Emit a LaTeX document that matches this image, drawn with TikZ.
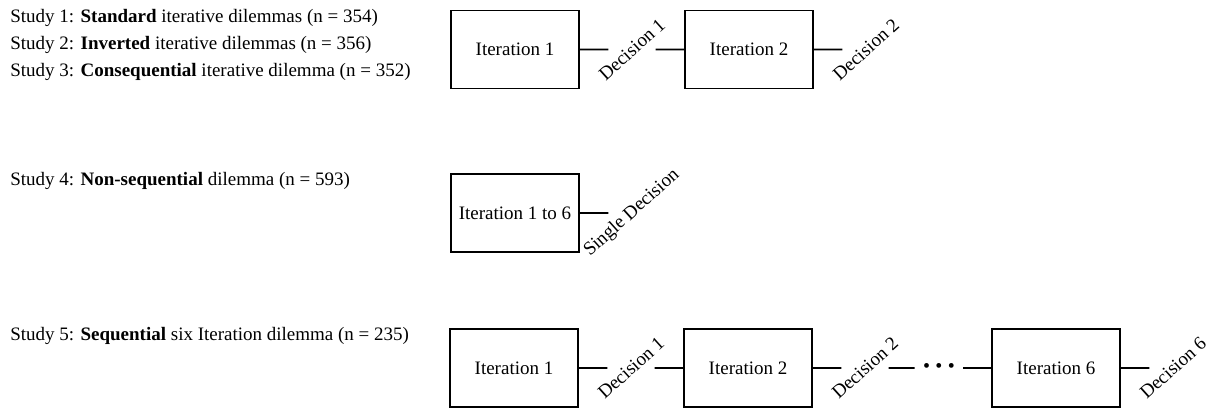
\documentclass[tikz,border=0pt]{standalone}
\usepackage{fontspec}
\setmainfont{Liberation Serif}
\usetikzlibrary{positioning}
\tikzstyle{study} = [anchor=west, inner sep=0pt, font=\fontsize{9.5}{11}\selectfont]
\tikzstyle{iteration} = [rectangle, draw, line width=0.9pt, minimum width=64pt, minimum height=39pt, inner sep=0pt, font=\fontsize{9.5}{11}\selectfont]
\tikzstyle{choice} = [rotate=42, inner sep=0pt, minimum height=15.4pt, font=\fontsize{9.5}{11}\selectfont]
\tikzstyle{line} = [draw, line width=0.8pt]

\begin{document}
\begin{tikzpicture}[x=0.5pt, y=-0.5pt, node distance=58.5pt]
    \useasboundingbox (0,0) rectangle (1210,409);

    % studies 1 to 3
    \node [study] (s1) at (10,18) {Study 1: \textbf{Standard} iterative dilemmas (n = 354)};
    \node [study] (s2) at (10,45) {Study 2: \textbf{Inverted} iterative dilemmas (n = 356)};
    \node [study] (s3) at (10,72) {Study 3: \textbf{Consequential} iterative dilemma (n = 352)};
    \node [iteration] (a1) at (515,49.5) {Iteration 1};
    \node [right of=a1, choice] (ad1) {Decision 1};
    \node [iteration, right of=ad1] (a2) {Iteration 2};
    \node [right of=a2, choice] (ad2) {Decision 2};

    % study 4
    \node [study] (s4) at (10,181) {Study 4: \textbf{Non-sequential} dilemma (n = 593)};
    \node [iteration] (b1) at (515,213) {Iteration 1 to 6};
    \node [right of=b1, choice] (bd1) {Single Decision};

    % study 5
    \node [study] (s5) at (10,336) {Study 5: \textbf{Sequential} six Iteration dilemma (n = 235)};
    \node [iteration] (c1) at (514,368) {Iteration 1};
    \node [right of=c1, choice] (cd1) {Decision 1};
    \node [iteration, right of=cd1] (c2) {Iteration 2};
    \node [right of=c2, choice] (cd2) {Decision 2};
    \node [right of=cd2, node distance=37pt, inner xsep=4pt, inner ysep=1pt] (more) {\textbullet\hspace{2.7pt}\textbullet\hspace{2.7pt}\textbullet};
    \node [iteration, right of=more] (c6) {Iteration 6};
    \node [right of=c6, choice] (cd6) {Decision 6};

    \path [line] (a1) -- (ad1);
    \path [line] (ad1) -- (a2);
    \path [line] (a2) -- (ad2);
    \path [line] (b1) -- (bd1);
    \path [line] (c1) -- (cd1);
    \path [line] (cd1) -- (c2);
    \path [line] (c2) -- (cd2);
    \path [line] (cd2) -- (more);
    \path [line] (more) -- (c6);
    \path [line] (c6) -- (cd6);
\end{tikzpicture}
\end{document}
